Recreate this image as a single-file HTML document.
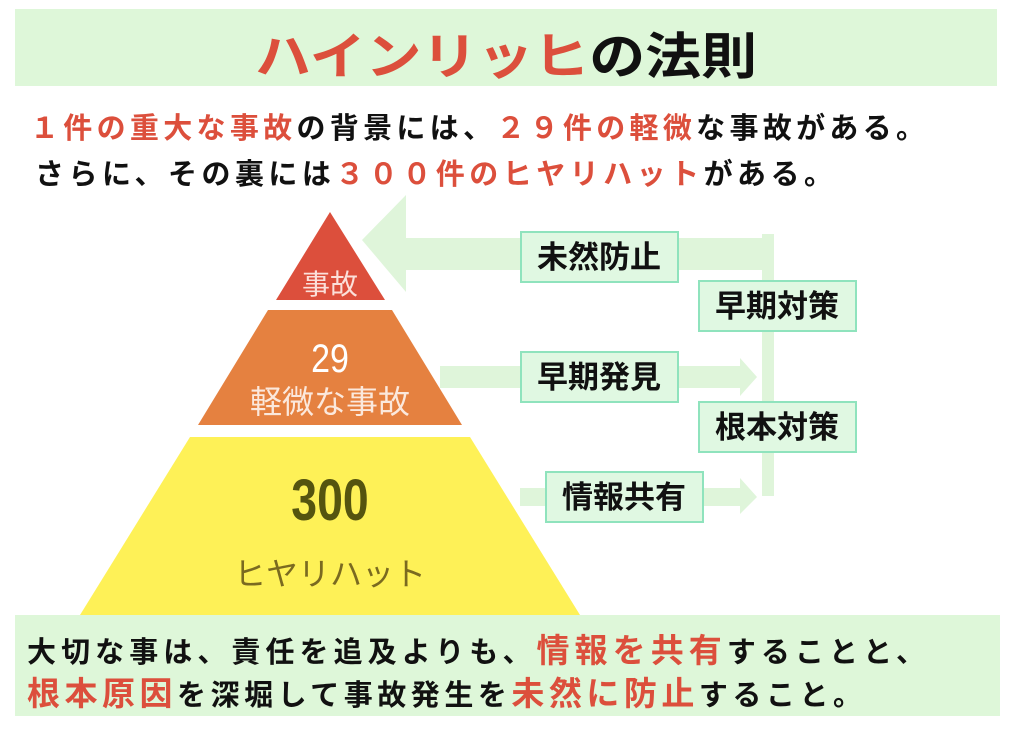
<!DOCTYPE html>
<html><head><meta charset="utf-8"><style>
html,body{margin:0;padding:0;background:#fff;width:1024px;height:734px;overflow:hidden}
svg{display:block}
text{font-family:"Liberation Sans","Noto Sans CJK JP",sans-serif;font-weight:bold}
text.n{font-weight:normal}
</style></head><body>
<svg width="1024" height="734" viewBox="0 0 1024 734">
<rect x="15" y="9" width="982" height="77" fill="#def7d9"/>
<text x="506" y="74" text-anchor="middle" font-size="50" textLength="502" lengthAdjust="spacingAndGlyphs"><tspan fill="#dc4f3c">ハインリッヒ</tspan><tspan fill="#111">の法則</tspan></text>
<text x="30" y="138" font-size="29" textLength="895" lengthAdjust="spacing"><tspan fill="#dc4f3c">１件の重大な事故</tspan><tspan fill="#111">の背景には、</tspan><tspan fill="#dc4f3c">２９件の軽微</tspan><tspan fill="#111">な事故がある。</tspan></text>
<text x="35" y="184" font-size="29" textLength="798" lengthAdjust="spacing"><tspan fill="#111">さらに、その裏には</tspan><tspan fill="#dc4f3c">３００件のヒヤリハット</tspan><tspan fill="#111">がある。</tspan></text>

<g fill="#dff5da">
<rect x="762" y="234" width="12" height="262"/>
<rect x="400" y="238" width="374" height="32"/>
<polygon points="362,240 406,195 406,292"/>
<rect x="440" y="366" width="300" height="22"/>
<polygon points="740,358 757,377 740,396"/>
<rect x="520" y="488" width="220" height="18"/>
<polygon points="740,478 757,497 740,514"/>
</g>
<polygon points="330,212 385,300 276,300" fill="#dc4f3c"/>
<polygon points="268,310 392,310 462,425 198,425" fill="#e58140"/>
<polygon points="190,437 470,437 580,615 80,615" fill="#fef157"/>
<text class="n" x="330" y="294" text-anchor="middle" font-size="28" fill="#fbe0da">事故</text>
<text class="n" x="330" y="372" text-anchor="middle" font-size="40" fill="#fff" transform="translate(330 0) scale(0.85 1) translate(-330 0)">29</text>
<text class="n" x="330" y="413" text-anchor="middle" font-size="32" fill="#fbe8dc">軽微な事故</text>
<text x="330" y="520" text-anchor="middle" font-size="58" fill="#55540f" transform="translate(330 0) scale(0.8 1) translate(-330 0)">300</text>
<text class="n" x="330" y="585" text-anchor="middle" font-size="32" fill="#7a6a20">ヒヤリハット</text>

<g fill="#e0f8e2" stroke="#8fe3bd" stroke-width="2">
<rect x="521" y="232" width="157" height="50"/>
<rect x="699" y="281" width="157" height="50"/>
<rect x="521" y="352" width="157" height="50"/>
<rect x="699" y="402" width="157" height="50"/>
<rect x="546" y="472" width="157" height="50"/>
</g>
<g font-size="31" fill="#111" text-anchor="middle">
<text x="599" y="268">未然防止</text>
<text x="777" y="317">早期対策</text>
<text x="599" y="388">早期発見</text>
<text x="777" y="438">根本対策</text>
<text x="624" y="508">情報共有</text>
</g>

<rect x="15" y="615" width="985" height="101" fill="#def7d9"/>
<text x="27" y="662" font-size="29" textLength="898" lengthAdjust="spacing"><tspan fill="#111">大切な事は、責任を追及よりも、</tspan><tspan fill="#dc4f3c" font-size="33">情報を共有</tspan><tspan fill="#111">することと、</tspan></text>
<text x="27" y="705" font-size="29" textLength="835" lengthAdjust="spacing"><tspan fill="#dc4f3c" font-size="33">根本原因</tspan><tspan fill="#111">を深堀して事故発生を</tspan><tspan fill="#dc4f3c" font-size="33">未然に防止</tspan><tspan fill="#111">すること。</tspan></text>
</svg>
</body></html>
